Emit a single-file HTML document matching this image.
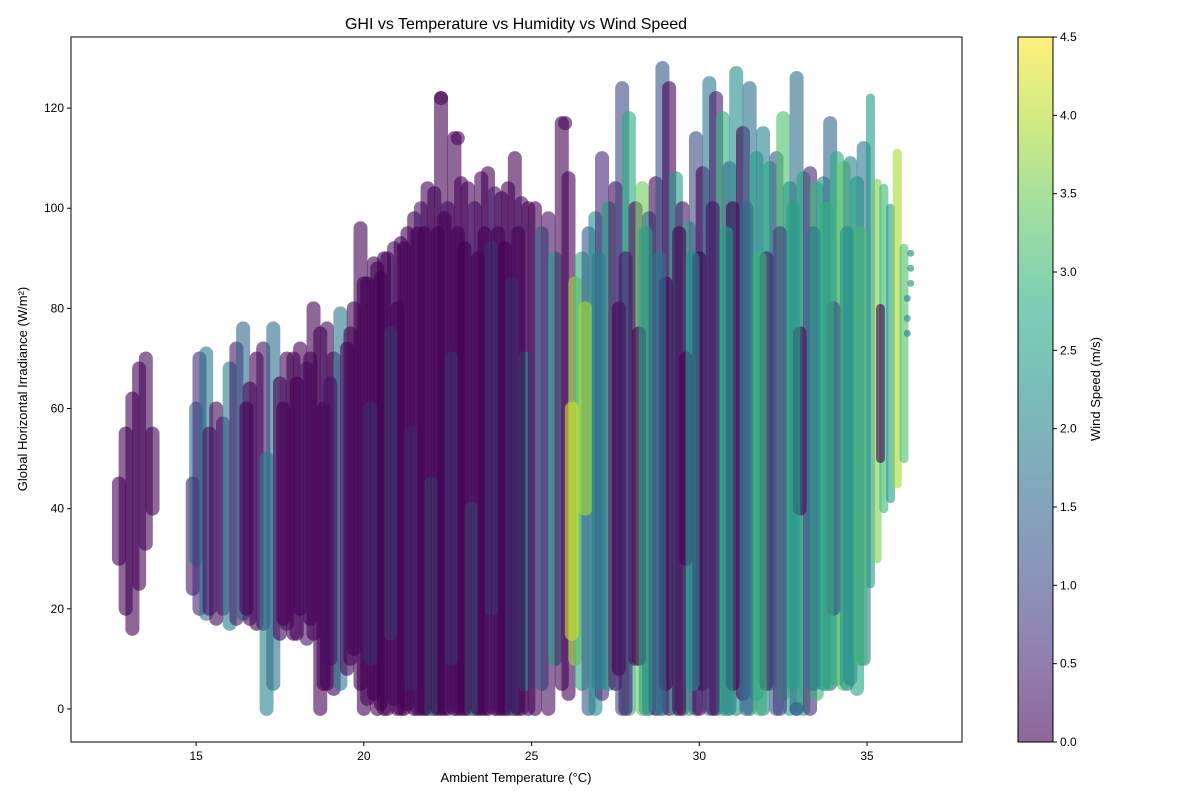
<!DOCTYPE html>
<html><head><meta charset="utf-8"><style>
body{margin:0;background:#fff;}
svg{display:block;font-family:"Liberation Sans","DejaVu Sans",sans-serif;}
</style></head><body>
<svg id="chart" width="1200" height="800">
<defs>
<linearGradient id="vir" x1="0" y1="1" x2="0" y2="0">
<stop offset="0" stop-color="#440154"/><stop offset="0.125" stop-color="#472d7b"/><stop offset="0.25" stop-color="#3b528b"/><stop offset="0.375" stop-color="#2c728e"/><stop offset="0.5" stop-color="#21918c"/><stop offset="0.625" stop-color="#28ae80"/><stop offset="0.75" stop-color="#5ec962"/><stop offset="0.875" stop-color="#addc30"/><stop offset="1" stop-color="#fde725"/>
</linearGradient>
<clipPath id="pc"><rect x="71" y="37" width="891" height="705"/></clipPath>
</defs>
</svg>
<script>
const streakTemp=[12.7,12.9,13.1,13.3,13.5,13.7,14.9,15.0,15.1,15.3,15.6,15.8,16.0,16.2,16.4,16.6,16.8,17.0,17.1,17.3,17.5,17.7,17.9,18.1,18.3,18.5,18.7,18.9,19.1,19.3,19.5,19.7,
19.9,20.1,20.3,20.5,20.7,20.9,21.1,21.3,21.5,21.7,21.9,22.1,22.3,22.5,22.7,22.9,23.1,23.3,23.5,23.7,23.9,24.1,24.3,24.5,24.7,24.9,
20.2,20.8,21.4,22.0,22.6,23.2,23.8,24.4,24.8,21.0,22.2,23.4,24.6,
25.1,25.3,25.5,25.7,25.9,26.1,26.3,26.5,26.7,26.9,26.2,26.6,
27.1,27.3,27.5,27.7,27.9,28.1,28.3,28.5,28.7,28.9,29.1,29.3,29.5,29.7,29.9,30.1,30.3,30.5,30.7,30.9,31.1,31.3,31.5,31.7,
28.2,29.0,30.0,31.0,29.6,27.6,
31.9,32.1,32.3,32.5,32.7,32.9,33.1,33.3,33.5,33.7,33.9,34.1,34.3,34.5,34.7,34.9,35.1,35.3,35.5,35.7,35.9,36.1,
32.0,33.0,35.4,34.0,
20.0,20.4,20.6,21.2,21.6,21.8,22.4,22.8,23.0,23.6,24.0,24.2,
15.4,16.5,17.6,18.0,18.4,18.8,19.0,19.6,
27.0,27.8,28.4,28.8,29.4,29.8,30.4,30.8,31.4,31.8,32.4,32.8,33.4,33.8,34.4,34.8];
const streakLow=[30,20,16,25,33,40,24,30,20,19,18,20,17,18,19,18,17,17,0,5,15,17,15,20,14,15,0,5,4,5,8,12,
5,2,3,1,0,2,0,1,0,0,0,0,0,0,0,0,0,0,0,0,0,0,0,0,0,0,
10,15,5,0,10,0,20,0,5,0,0,0,0,
0,5,0,10,5,3,10,5,0,0,15,40,
3,5,5,0,0,10,0,0,0,0,0,0,0,0,0,5,0,0,0,0,0,3,0,3,
10,5,0,5,30,8,
0,5,0,3,0,0,0,0,3,5,5,6,5,6,4,10,25,30,40,42,45,50,
5,40,50,20,
0,0,0,0,0,0,0,0,0,0,0,0,
20,20,18,15,18,5,10,10,
5,0,0,0,0,5,0,0,0,0,0,5,5,5,5,10];
const streakHigh=[45,55,62,68,70,55,45,60,70,71,60,57,68,72,76,64,70,72,50,76,65,70,70,72,68,80,75,76,70,79,72,80,
96,85,89,86,90,92,93,95,98,100,104,103,122,100,114,105,104,100,106,107,103,102,104,110,101,100,
60,75,55,45,70,40,92,85,70,80,95,90,95,
100,95,98,90,117,106,85,90,95,98,60,80,
110,100,104,124,118,100,104,98,105,128,124,106,100,96,114,107,125,122,118,108,127,115,124,110,
75,85,90,100,70,80,
115,108,110,118,104,126,106,107,104,105,117,110,108,109,105,112,122,105,104,100,111,92,
90,75,80,80,
85,88,90,92,95,95,98,95,92,95,95,92,
55,60,60,65,70,60,65,75,
90,90,95,90,95,90,100,95,100,90,95,100,95,100,95,95];
const streakWind=[0,0,0,0,0.1,0,0.3,1.6,0.5,1.8,0.1,0.3,1.9,0.3,1.5,0,0,0.2,2.0,1.6,0,0.1,0,0,0.3,0,0,0.1,0,1.8,0,0,
0,0,0,0,0,0.2,0,0,0,0.3,0,0,0,0.2,0,0,0,0.3,0,0,0.4,0,0,0,0.2,0,
1.8,2.2,1.5,2.4,1.9,2.6,2.0,1.7,2.3,0,0,0,0,
0,1.5,0.2,2.5,0,0,3.8,2.8,1.2,2.2,4.2,3.9,
0.5,2.5,0,1.0,2.8,0,3.5,1.5,0,1.2,0,2.4,0.2,2.8,1.0,0,1.8,0.3,2.9,1.4,2.2,0,1.6,2.6,
0,0,0,0,0,0,
2.0,2.8,1.2,3.2,2.4,1.6,2.7,0.5,3.0,2.2,1.5,2.8,3.4,2.0,2.6,1.8,2.4,3.6,3.0,2.5,3.9,3.2,
0.3,0.1,0,1.0,
0,0,0,0,0,0,0,0,0,0,0,0,
0.2,0,0,0,0,0,0.2,0,
2.0,0.3,2.6,1.8,0,2.2,0.2,2.5,1.5,3.0,0.8,2.6,1.8,2.9,2.2,3.1];
const ptTemp=[36.3,36.3,36.3,36.2,36.2,36.2,22.3,22.8,26.0,32.9];
const ptGhi=[91,88,85,82,78,75,122,114,117,0];
const ptWind=[1.8,1.9,2.0,1.8,2.1,1.7,0,0,0,1.2];
const xTicks=[15,20,25,30,35];
const yTicks=[0,20,40,60,80,100,120];
const cTicks=[0,0.5,1,1.5,2,2.5,3,3.5,4,4.5];

const L=71,R=962,T=37,B=742;
const xmin=11.27,xmax=37.83,ymin=-6.6,ymax=134.2;
const xs=v=>L+(v-xmin)/(xmax-xmin)*(R-L);
const ys=v=>B-(v-ymin)/(ymax-ymin)*(B-T);
const vir=[[68,1,84],[71,45,123],[59,82,139],[44,114,142],[33,145,140],[40,174,128],[94,201,98],[173,220,48],[253,231,37]];
function col(w){let t=Math.max(0,Math.min(1,w/4.5))*8;let i=Math.min(7,Math.floor(t)),f=t-i;
const c=vir[i].map((a,k)=>Math.round(a+(vir[i+1][k]-a)*f));return `rgb(${c})`;}
const svg=document.getElementById('chart');const NS='http://www.w3.org/2000/svg';
function mk(tag,attrs,parent){const e=document.createElementNS(NS,tag);for(const k in attrs)e.setAttribute(k,attrs[k]);(parent||svg).appendChild(e);return e;}

const g=mk('g',{'clip-path':'url(#pc)'});


streakTemp.forEach((t,i)=>{
  const w=t>35?9:14;
  const l=mk('line',{x1:xs(t),x2:xs(t),y1:ys(streakLow[i]),y2:ys(streakHigh[i]),stroke:col(streakWind[i]),'stroke-width':w,'stroke-linecap':'round',opacity:0.6},g);
  
  
});
ptTemp.forEach((t,i)=>{
  const c=mk('circle',{cx:xs(t),cy:ys(ptGhi[i]),r:t>36?3.5:7,fill:col(ptWind[i]),opacity:0.6},g);
  
  
});
const frame=mk('rect',{x:L,y:T,width:R-L,height:B-T,fill:'none',stroke:'#000','stroke-width':1});


xTicks.forEach(v=>{
  mk('line',{x1:xs(v),x2:xs(v),y1:B,y2:B+4,stroke:'#000'});
  const tx=mk('text',{x:xs(v),y:B+18,'font-size':12,'text-anchor':'middle'});tx.textContent=v;
  
  
});
yTicks.forEach(v=>{
  mk('line',{x1:L-4,x2:L,y1:ys(v),y2:ys(v),stroke:'#000'});
  const tx=mk('text',{x:L-7,y:ys(v)+4,'font-size':12,'text-anchor':'end'});tx.textContent=v;
  
  
});
const title=mk('text',{x:516,y:29,'font-size':16,'text-anchor':'middle'});title.textContent='GHI vs Temperature vs Humidity vs Wind Speed';


const xl=mk('text',{x:516,y:782,'font-size':13,'text-anchor':'middle'});xl.textContent='Ambient Temperature (°C)';


const yl=mk('text',{x:0,y:0,'font-size':13,'text-anchor':'middle',transform:'translate(27,389) rotate(-90)'});yl.textContent='Global Horizontal Irradiance (W/m²)';


const CL=1018,CR=1053,CT=37,CB=742;
const cb=mk('rect',{x:CL,y:CT,width:CR-CL,height:CB-CT,fill:'url(#vir)','fill-opacity':0.6});


mk('rect',{x:CL,y:CT,width:CR-CL,height:CB-CT,fill:'none',stroke:'#000'});
cTicks.forEach(v=>{const y=CB-v/4.5*(CB-CT);
  mk('line',{x1:CR,x2:CR+4,y1:y,y2:y,stroke:'#000'});
  const tx=mk('text',{x:CR+7,y:y+4,'font-size':12});tx.textContent=v.toFixed(1);
  
  
});
const cl=mk('text',{x:0,y:0,'font-size':13,'text-anchor':'middle',transform:'translate(1100,389) rotate(-90)'});cl.textContent='Wind Speed (m/s)';


</script>
</body></html>
